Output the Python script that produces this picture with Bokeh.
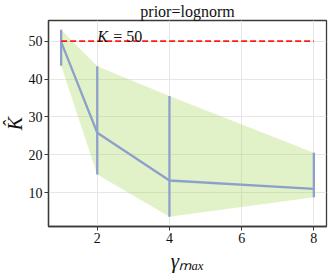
from bokeh.plotting import figure
from bokeh.models import Label, Range1d, FixedTicker
from bokeh.embed import file_html
from bokeh.resources import INLINE

# data
gamma_max = [1, 2, 4, 8]
k_mean = [49.8, 25.8, 13.2, 11.0]
k_low = [43.5, 14.8, 3.6, 8.8]
k_high = [53.0, 43.4, 35.5, 20.5]
true_k = 50
x_ticks = [2, 4, 6, 8]
y_ticks = [10, 20, 30, 40, 50]
title_text = "prior=lognorm"

SERIF = "Liberation Serif"
DARK = "#3a3a3a"

p = figure(width=332, height=275, output_backend="svg", toolbar_location=None,
           x_range=Range1d(0.65, 8.35), y_range=Range1d(1.05, 55.45),
           min_border_left=48, min_border_right=6, min_border_top=0, min_border_bottom=46)

p.background_fill_color = "white"
p.border_fill_color = "white"
p.outline_line_color = DARK
p.outline_line_width = 1.3

p.title.text = title_text
p.title.align = "center"
p.title.text_font = SERIF
p.title.text_font_style = "normal"
p.title.text_font_size = "16px"
p.title.text_color = "#111111"
p.title.standoff = 1

# band
p.varea(x=gamma_max, y1=k_low, y2=k_high, fill_color="#a6d854", fill_alpha=0.32)
# mean line
p.line(gamma_max, k_mean, line_color="#8da0cb", line_width=2.3)
# error bars
p.segment(x0=gamma_max, y0=k_low, x1=gamma_max, y1=k_high,
          line_color="#8da0cb", line_width=2.3)
# true K line
p.line([gamma_max[0], gamma_max[-1]], [true_k, true_k], line_color="#ff1a1a",
       line_width=1.6, line_dash="6 3")

# axes
for ax in (p.xaxis[0], p.yaxis[0]):
    ax.axis_line_color = DARK
    ax.axis_line_width = 1.3
    ax.major_tick_line_color = DARK
    ax.major_tick_out = 4
    ax.major_tick_in = 0
    ax.minor_tick_line_color = None
    ax.major_label_text_font = SERIF
    ax.major_label_text_font_size = "14px"
    ax.major_label_text_color = "#111111"
    ax.axis_label_text_font = SERIF
    ax.axis_label_text_font_style = "italic"
    ax.axis_label_text_color = "#111111"
p.xaxis.ticker = FixedTicker(ticks=x_ticks)
p.yaxis.ticker = FixedTicker(ticks=y_ticks)
p.xaxis.major_label_standoff = 2
p.yaxis.major_label_standoff = 2
p.xaxis.axis_label = "\u03b3\u2098\u2090\u2093"
p.xaxis.axis_label_text_font_size = "21px"
p.xaxis.axis_label_standoff = 3
p.yaxis.axis_label = "K\u0302"
p.yaxis.axis_label_text_font_size = "20px"
p.yaxis.axis_label_standoff = 0

p.xgrid.ticker = FixedTicker(ticks=x_ticks)
p.ygrid.ticker = FixedTicker(ticks=y_ticks)
p.grid.grid_line_color = "#e6e6e6"
p.grid.grid_line_width = 1

# K = 50 annotation
p.add_layout(Label(x=2, y=51.3, text="K", text_font=SERIF, text_font_style="italic",
                   text_font_size="16px", text_baseline="alphabetic", text_color="#111111"))
p.add_layout(Label(x=2, y=51.3, x_offset=16, text="= 50", text_font=SERIF,
                   text_font_size="16px", text_baseline="alphabetic", text_color="#111111"))

open("out.html", "w").write(file_html(p, INLINE))
